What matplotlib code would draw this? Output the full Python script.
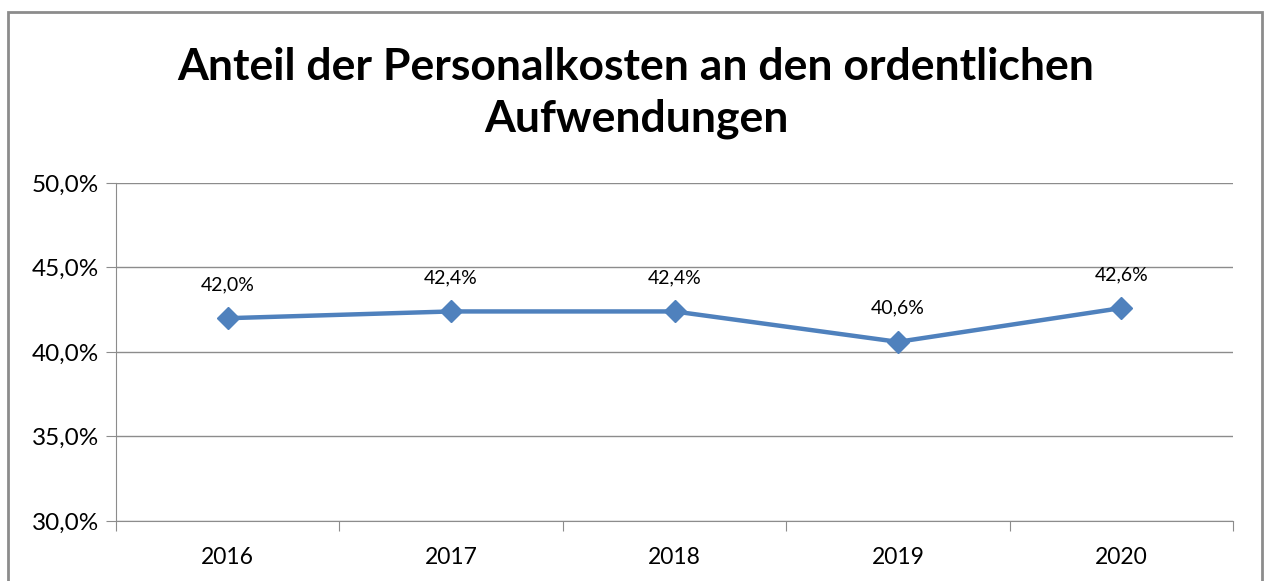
import matplotlib.pyplot as plt
from matplotlib.patches import Rectangle
from matplotlib.ticker import FuncFormatter, MultipleLocator

years = ["2016", "2017", "2018", "2019", "2020"]
shares = [42.0, 42.4, 42.4, 40.6, 42.6]
title = "Anteil der Personalkosten an den ordentlichen\nAufwendungen"

W, H = 1264, 581
fig = plt.figure(figsize=(W / 100, H / 100), dpi=100)
plt.rcParams['font.family'] = ['Lato', 'DejaVu Sans']

# outer chart frame (bottom edge runs off the image)
fig.patches.append(Rectangle((8 / W, -0.05), (1262 - 8) / W, 1.05 - 12 / H,
                             transform=fig.transFigure, fill=False,
                             edgecolor='#8c8c8c', linewidth=2))

ax = fig.add_axes([116 / W, 1 - 521 / H, (1233 - 116) / W, (521 - 183) / H])
x = list(range(len(years)))
ax.plot(x, shares, color='#4f81bd', linewidth=3.2, marker='D', markersize=11)
for xi, v in zip(x, shares):
    ax.annotate(f"{v:.1f}%".replace(".", ","), (xi, v), xytext=(0, 18),
                textcoords='offset points', ha='center', va='bottom', fontsize=14)

ax.set_xlim(-0.5, len(years) - 0.5)
ax.set_ylim(30, 50)
ax.yaxis.set_major_locator(MultipleLocator(5))
ax.yaxis.set_major_formatter(FuncFormatter(lambda v, p: f"{v:.1f}%".replace(".", ",")))
ax.grid(axis='y', color='#8c8c8c', linewidth=1)
ax.set_axisbelow(True)

ax.set_xticks([i - 0.5 for i in range(len(years) + 1)], minor=False)
ax.set_xticklabels([])
ax.set_xticks(x, minor=True)
ax.set_xticklabels(years, minor=True, fontsize=16.5)
ax.tick_params(axis='x', which='minor', length=0, pad=19)
ax.tick_params(axis='x', which='major', length=7, color='#8c8c8c')
ax.tick_params(axis='y', length=7, color='#8c8c8c', labelsize=17.5, pad=5)

for side in ['top', 'right']:
    ax.spines[side].set_visible(False)
for side in ['left', 'bottom']:
    ax.spines[side].set_color('#8c8c8c')

fig.text(636 / W, 1 - 93 / H, title, ha='center', va='center', fontsize=32,
         fontweight='bold', linespacing=1.32)

fig.savefig("out.png", dpi=100)
